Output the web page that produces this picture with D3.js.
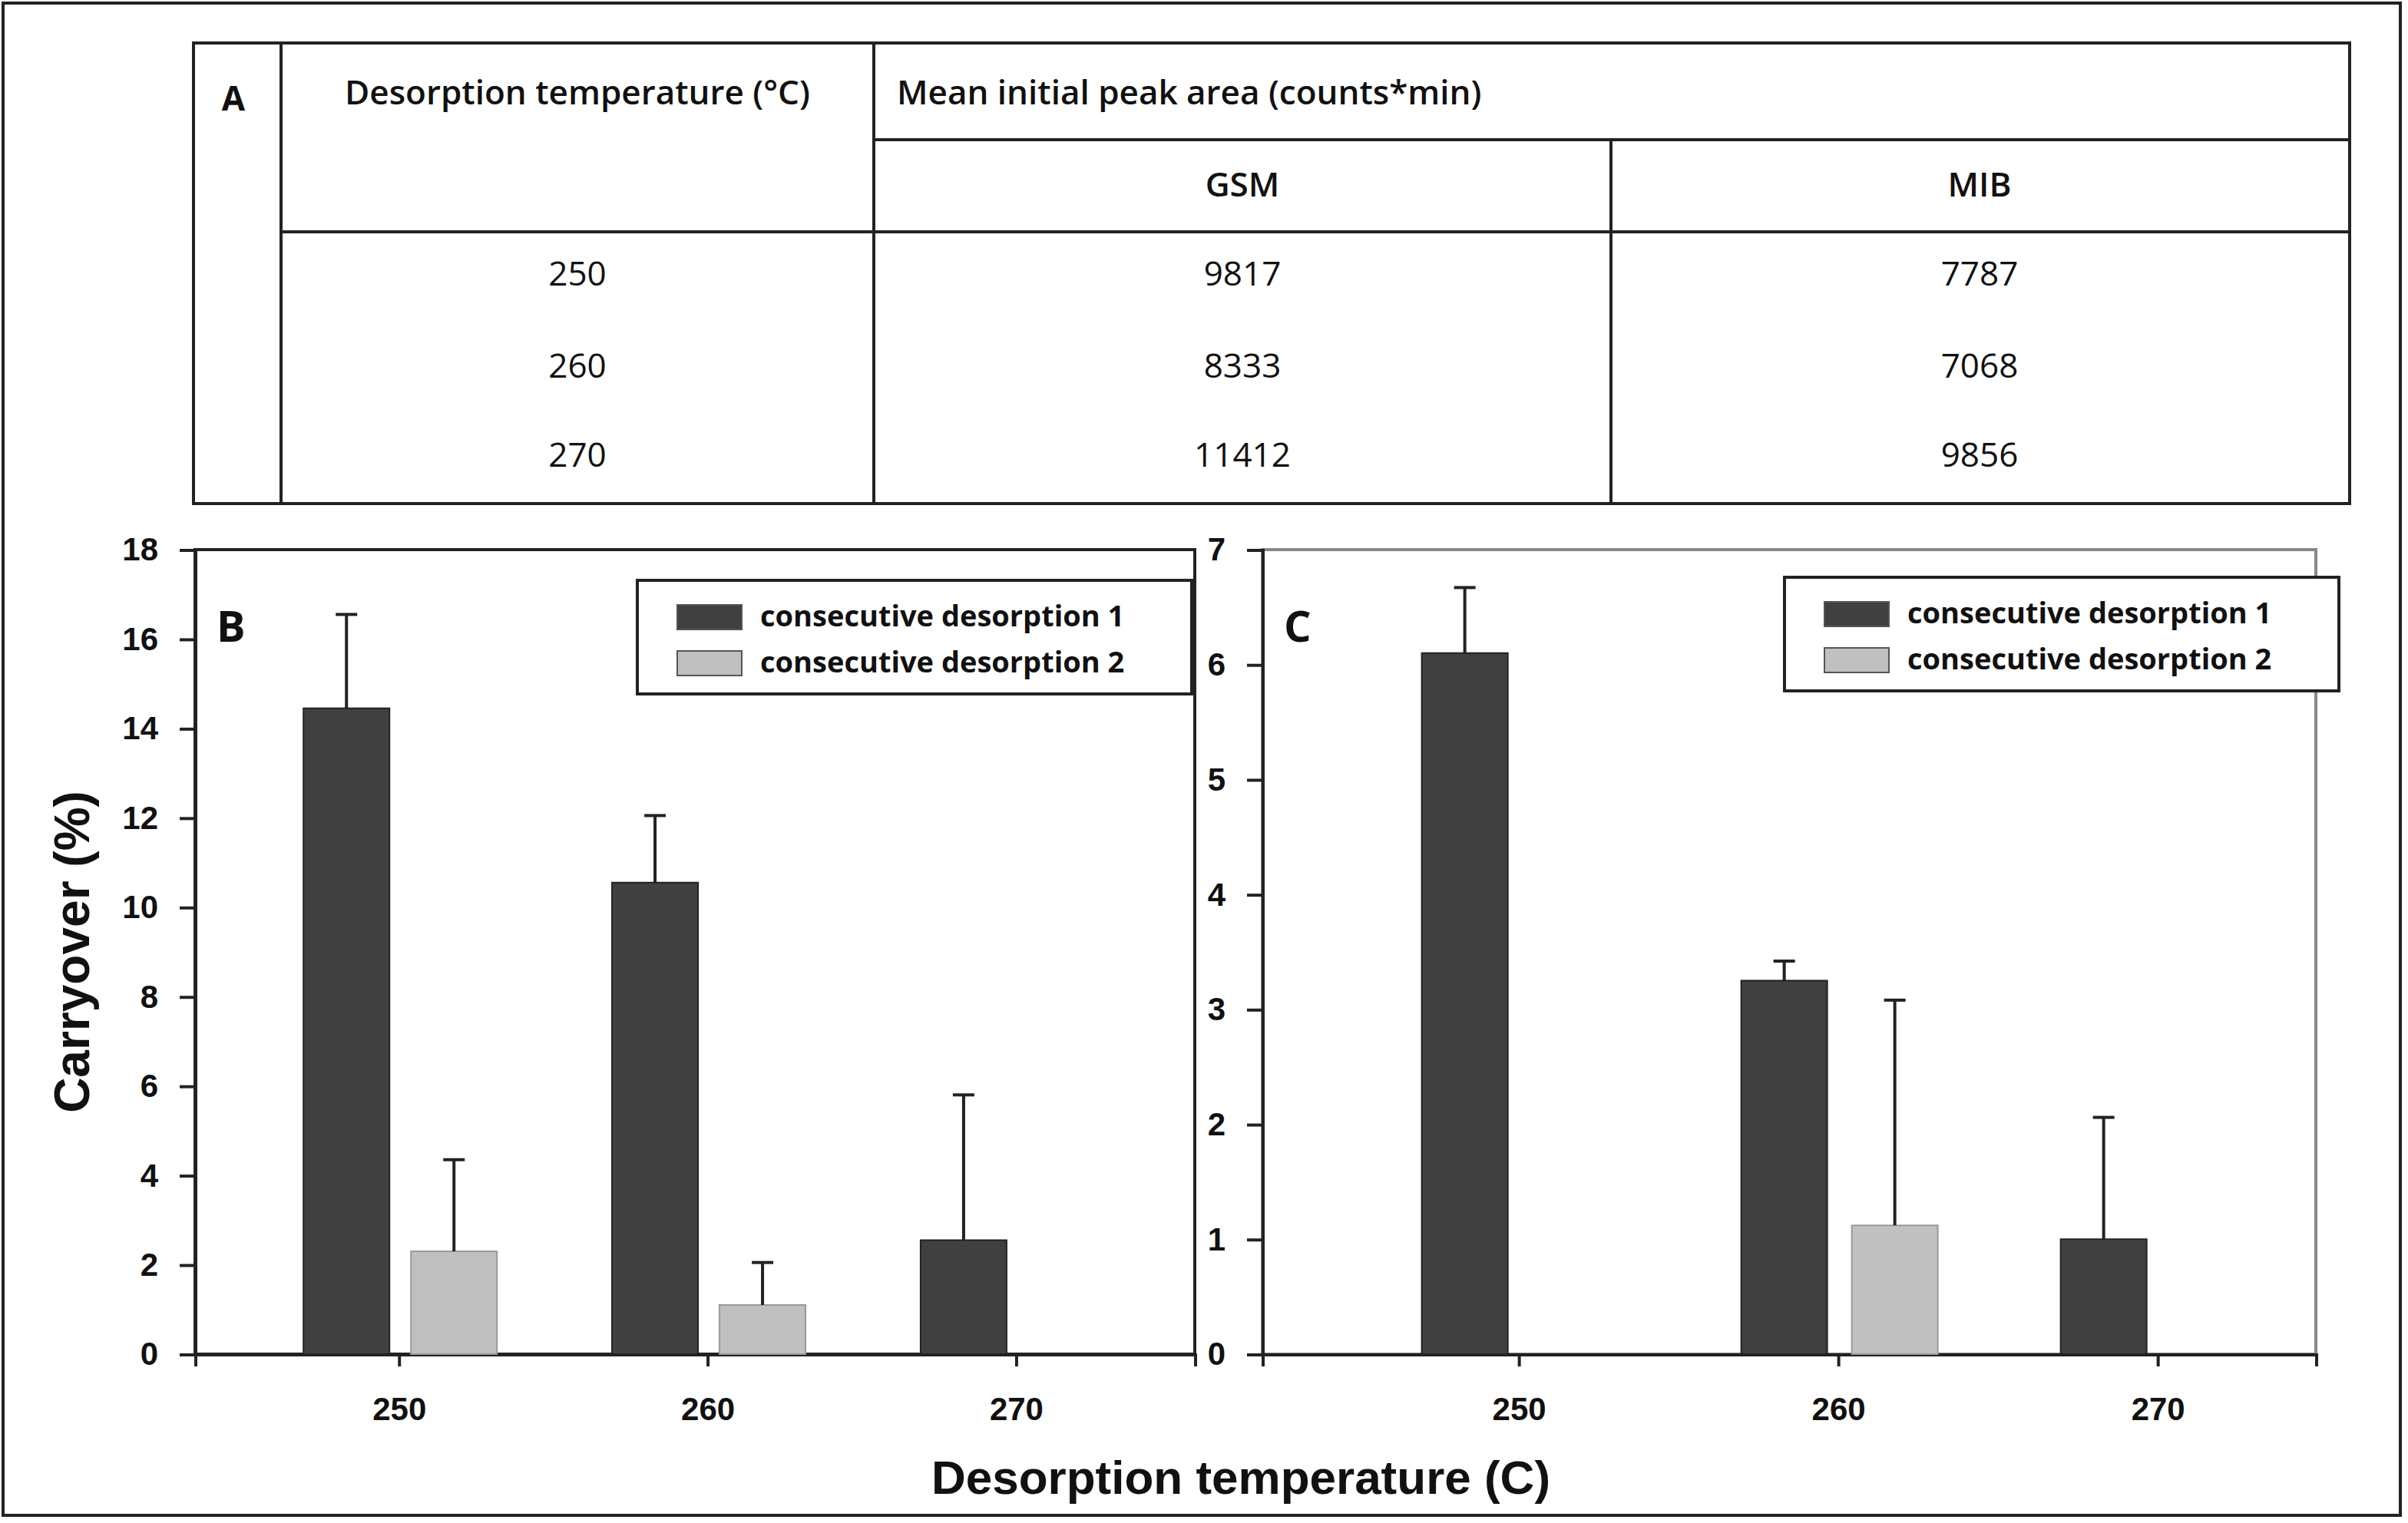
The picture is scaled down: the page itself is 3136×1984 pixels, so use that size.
<!DOCTYPE html>
<html><head><meta charset="utf-8">
<script src="https://cdn.jsdelivr.net/npm/d3@7"></script>
<style>
body{margin:0;background:#fff}
.tk text{font-family:"Liberation Sans Narrow","Liberation Sans",Arial,sans-serif;font-weight:bold;font-size:21px;fill:#111}
.tb{font-family:"Open Sans","Noto Sans",sans-serif;font-size:22px;fill:#111}
</style></head><body>
<script>
var temps = ["250", "260", "270"];
var seriesNames = ["consecutive desorption 1", "consecutive desorption 2"];
var bD1 = [14.45, 10.55, 2.55], bD1err = [2.1, 1.5, 3.25];
var bD2 = [2.3, 1.1, 0], bD2err = [2.05, 0.95, 0];
var cD1 = [6.1, 3.25, 1.0], cD1err = [0.57, 0.17, 1.06];
var cD2 = [0, 1.12, 0], cD2err = [0, 1.96, 0];
var tableGSM = [9817, 8333, 11412];
var tableMIB = [7787, 7068, 9856];
var colors = ["#404040", "#c0c0c0"];

var svg = d3.select("body").append("svg")
  .attr("width", 3136).attr("height", 1984)
  .attr("viewBox", "0 0 1568 992");

svg.append("rect").attr("x", 2).attr("y", 2).attr("width", 1561).attr("height", 985)
  .attr("fill", "none").attr("stroke", "#222").attr("stroke-width", 2);

// table A
var t = svg.append("g");
function ln(x1, y1, x2, y2) {
  t.append("line").attr("x1", x1).attr("y1", y1).attr("x2", x2).attr("y2", y2)
    .attr("stroke", "#222").attr("stroke-width", 2);
}
t.append("rect").attr("x", 126).attr("y", 28).attr("width", 1404).attr("height", 300)
  .attr("fill", "none").attr("stroke", "#222").attr("stroke-width", 2);
ln(183, 28, 183, 328); ln(569, 28, 569, 328); ln(1049, 91, 1049, 328);
ln(569, 91, 1530, 91); ln(183, 151, 1530, 151);
function tx(x, y, s, anchor, w) {
  t.append("text").attr("class", "tb").attr("x", x).attr("y", y).attr("text-anchor", anchor || "middle")
    .attr("font-weight", w || "normal").text(s);
}
t.append("text").attr("class", "tb").attr("x", 152).attr("y", 72).attr("text-anchor", "middle")
  .attr("font-weight", "bold").attr("font-size", 28).text("A");
tx(376, 68, "Desorption temperature (°C)", "middle", "600");
tx(584, 68, "Mean initial peak area (counts*min)", "start", "600");
tx(809, 128, "GSM", "middle", "600");
tx(1289, 128, "MIB", "middle", "600");
var rowY = [186, 246, 304];
temps.forEach(function(d, i) {
  tx(376, rowY[i], d); tx(809, rowY[i], tableGSM[i]); tx(1289, rowY[i], tableMIB[i]);
});

function panel(opt) {
  var g = svg.append("g");
  var x = d3.scaleLinear().domain(opt.xd).range([opt.l, opt.r]);
  var y = d3.scaleLinear().domain([0, opt.ymax]).range([882, 358]);
  g.append("rect").attr("x", opt.l).attr("y", 358).attr("width", opt.r - opt.l).attr("height", 524)
    .attr("fill", "none").attr("stroke", opt.frame).attr("stroke-width", 2);
  var ya = g.append("g").attr("class", "tk").attr("transform", "translate(" + opt.l + ",0)")
    .call(d3.axisLeft(y).ticks(opt.ymax / opt.step).tickSize(10).tickPadding(14));
  var xa = g.append("g").attr("class", "tk").attr("transform", "translate(0,882)")
    .call(d3.axisBottom(x).tickValues(temps.map(Number)).tickSize(8).tickPadding(20).tickFormat(d3.format("d")));
  [ya, xa].forEach(function(a) {
    a.select(".domain").attr("stroke", "#222").attr("stroke-width", 2);
    a.selectAll("line").attr("stroke", "#222").attr("stroke-width", 2);
  });
  if (opt.big) ya.selectAll("text").attr("font-size", 25);
  g.selectAll("text").filter(function() { return true; });
  [opt.d1, opt.d2].forEach(function(vals, s) {
    var errs = s === 0 ? opt.e1 : opt.e2;
    temps.forEach(function(tp, i) {
      if (vals[i] <= 0) return;
      var cx = x(+tp) + opt.off[s];
      var bx = cx - opt.bw / 2;
      g.append("rect").attr("x", bx).attr("y", y(vals[i])).attr("width", opt.bw)
        .attr("height", y(0) - y(vals[i])).attr("fill", colors[s])
        .attr("stroke", s === 0 ? "#222" : "#999").attr("stroke-width", 1);
      var top = y(vals[i] + errs[i]);
      g.append("line").attr("x1", cx).attr("x2", cx).attr("y1", y(vals[i])).attr("y2", top)
        .attr("stroke", "#222").attr("stroke-width", 2);
      g.append("line").attr("x1", cx - 7).attr("x2", cx + 7).attr("y1", top).attr("y2", top)
        .attr("stroke", "#222").attr("stroke-width", 2);
    });
  });
  g.append("text").attr("x", opt.l + 14).attr("y", 418)
    .attr("font-family", "Open Sans, sans-serif").attr("font-weight", "bold").attr("font-size", 28)
    .attr("fill", "#111").text(opt.label);
  var lg = g.append("g").attr("transform", "translate(" + opt.lx + "," + opt.ly + ")");
  lg.append("rect").attr("width", 361).attr("height", 74).attr("fill", "#fff")
    .attr("stroke", "#222").attr("stroke-width", 2);
  seriesNames.forEach(function(n, i) {
    lg.append("rect").attr("x", 26).attr("y", 16 + i * 30).attr("width", 42).attr("height", 16)
      .attr("fill", colors[i]).attr("stroke", "#555").attr("stroke-width", 1);
    lg.append("text").attr("x", 80).attr("y", 30 + i * 30)
      .attr("font-family", "Open Sans, sans-serif").attr("font-weight", "bold").attr("font-size", 19)
      .attr("fill", "#111").text(n);
  });
}

panel({l: 127, r: 778, xd: [243.4, 275.8], ymax: 18, step: 2, frame: "#222", big: true,
  d1: bD1, e1: bD1err, d2: bD2, e2: bD2err, bw: 56, off: [-34, 36], label: "B", lx: 415, ly: 378});
panel({l: 822, r: 1508, xd: [241.98, 274.96], ymax: 7, step: 1, frame: "#888", big: false,
  d1: cD1, e1: cD1err, d2: cD2, e2: cD2err, bw: 56, off: [-35, 37], label: "C", lx: 1162, ly: 376});

svg.append("text").attr("transform", "translate(58,620) rotate(-90)").attr("text-anchor", "middle")
  .attr("font-family", "Liberation Sans, Arial, sans-serif").attr("font-weight", "bold").attr("font-size", 32)
  .attr("fill", "#111").text("Carryover (%)");
svg.append("text").attr("x", 808).attr("y", 973).attr("text-anchor", "middle")
  .attr("font-family", "Liberation Sans Narrow, Liberation Sans, Arial, sans-serif").attr("font-weight", "bold").attr("font-size", 31)
  .attr("fill", "#111").text("Desorption temperature (C)");
</script>
</body></html>
